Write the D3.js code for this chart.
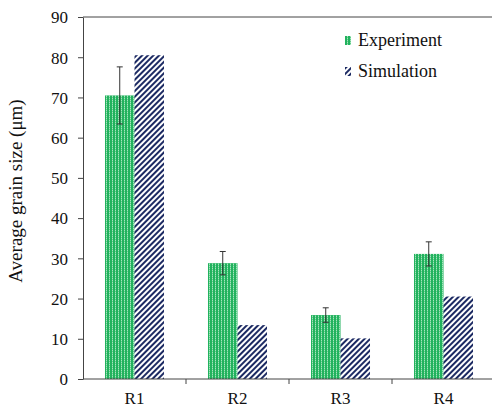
<!DOCTYPE html>
<html>
<head>
<meta charset="utf-8">
<script src="https://cdn.jsdelivr.net/npm/d3@7"></script>
<style>
  html, body { margin: 0; padding: 0; background: #fff; }
  svg { display: block; }
</style>
</head>
<body>
<script>
// Average grain size per run: measured vs. simulated
const categories = ["R1", "R2", "R3", "R4"];
const seriesNames = ["Experiment", "Simulation"];
const experiment = [70.5, 28.8, 15.9, 31.1];
const experimentErr = [7.1, 2.9, 1.8, 3.0];
const simulation = [80.5, 13.4, 10.1, 20.5];
const yTicks = [0, 10, 20, 30, 40, 50, 60, 70, 80, 90];

const FONT = "'Liberation Serif', Tinos, 'Times New Roman', Times, 'DejaVu Serif', serif";
const W = 492, H = 408;
const margin = { left: 83, top: 17, bottom: 29 };
const plotRight = 495;

const svg = d3.select("body").append("svg")
  .attr("width", W).attr("height", H)
  .style("font-family", FONT);

const defs = svg.append("defs");
// Green bars with light vertical stripes
const pg = defs.append("pattern").attr("id", "pat-exp")
  .attr("patternUnits", "userSpaceOnUse").attr("width", 3).attr("height", 2);
pg.append("rect").attr("width", 3).attr("height", 2).attr("fill", "#22b25e");
pg.append("rect").attr("x", 2).attr("width", 1).attr("height", 1).attr("fill", "#a6e5bd");
pg.append("rect").attr("x", 2).attr("y", 1).attr("width", 1).attr("height", 1).attr("fill", "#5fcb8a");
// Navy diagonal hatch on white
const ps = defs.append("pattern").attr("id", "pat-sim")
  .attr("patternUnits", "userSpaceOnUse").attr("width", 4).attr("height", 4)
  .attr("patternTransform", "rotate(45)");
ps.append("rect").attr("width", 4).attr("height", 4).attr("fill", "#ffffff");
ps.append("rect").attr("width", 2).attr("height", 4).attr("fill", "#1c2a63");

const y = d3.scaleLinear().domain([0, 90]).range([H - margin.bottom, margin.top]);
const x0 = d3.scaleBand().domain(categories).range([margin.left, plotRight]);
const groupPad = 0.2135 * x0.step();
const x1 = d3.scaleBand().domain(seriesNames).range([groupPad, x0.bandwidth() - groupPad]);

const rows = categories.map((c, i) => ({
  cat: c,
  vals: [
    { key: "Experiment", v: experiment[i], err: experimentErr[i] },
    { key: "Simulation", v: simulation[i] }
  ]
}));

const fills = { Experiment: "url(#pat-exp)", Simulation: "url(#pat-sim)" };

// Bars
const groups = svg.append("g").selectAll("g").data(rows).join("g")
  .attr("transform", d => `translate(${x0(d.cat)},0)`);
groups.selectAll("rect").data(d => d.vals).join("rect")
  .attr("x", d => x1(d.key))
  .attr("width", x1.bandwidth())
  .attr("y", d => y(d.v))
  .attr("height", d => y(0) - y(d.v))
  .attr("fill", d => fills[d.key]);

// Y axis
const yAxis = svg.append("g").attr("transform", `translate(${margin.left},0)`)
  .call(d3.axisLeft(y).tickValues(yTicks).tickSize(5).tickPadding(10).tickSizeOuter(0));
yAxis.attr("font-family", null);
yAxis.selectAll("text").style("font-size", "17px").style("fill", "#111").attr("dy", "0.34em");

// X axis: ticks at category boundaries, labels centred in bands
const xAxis = svg.append("g").attr("transform", `translate(0,${y(0)})`);
xAxis.append("line").attr("x1", margin.left).attr("x2", W).attr("y1", 0).attr("y2", 0);
const bounds = categories.map(c => x0(c)).slice(1);
xAxis.selectAll("line.tick").data(bounds).join("line").attr("class", "tick")
  .attr("x1", d => d).attr("x2", d => d).attr("y1", 0).attr("y2", 5);
xAxis.selectAll("text").data(categories).join("text")
  .attr("x", d => x0(d) + x0.bandwidth() / 2)
  .attr("y", 25)
  .attr("text-anchor", "middle")
  .style("font-size", "17px")
  .style("fill", "#111")
  .text(d => d);

// Top frame line
svg.append("line").attr("x1", margin.left).attr("x2", W)
  .attr("y1", margin.top).attr("y2", margin.top);

svg.selectAll("line, .domain").attr("stroke", "#444").attr("stroke-width", 1);

// Error bars on measured values
const eb = groups.append("g").attr("stroke", "#333").attr("stroke-width", 1);
eb.each(function (d) {
  const e = d.vals[0];
  const cx = x1("Experiment") + x1.bandwidth() / 2;
  const g = d3.select(this);
  g.append("line").attr("x1", cx).attr("x2", cx).attr("y1", y(e.v + e.err)).attr("y2", y(e.v - e.err));
  g.append("line").attr("x1", cx - 3).attr("x2", cx + 3).attr("y1", y(e.v + e.err)).attr("y2", y(e.v + e.err));
  g.append("line").attr("x1", cx - 3).attr("x2", cx + 3).attr("y1", y(e.v - e.err)).attr("y2", y(e.v - e.err));
});

// Y title
svg.append("text")
  .attr("transform", `translate(22,${191}) rotate(-90)`)
  .attr("text-anchor", "middle")
  .style("font-size", "19px")
  .style("fill", "#111")
  .text("Average grain size (μm)");

// Legend
const legend = svg.append("g").attr("transform", "translate(345,0)");
const items = legend.selectAll("g").data(seriesNames).join("g")
  .attr("transform", (d, i) => `translate(0,${36 + i * 31})`);
items.append("rect").attr("width", 6).attr("height", 9).attr("fill", d => fills[d]);
items.append("text").attr("x", 13).attr("y", 10).style("font-size", "18px").style("fill", "#111").text(d => d);
</script>
</body>
</html>
